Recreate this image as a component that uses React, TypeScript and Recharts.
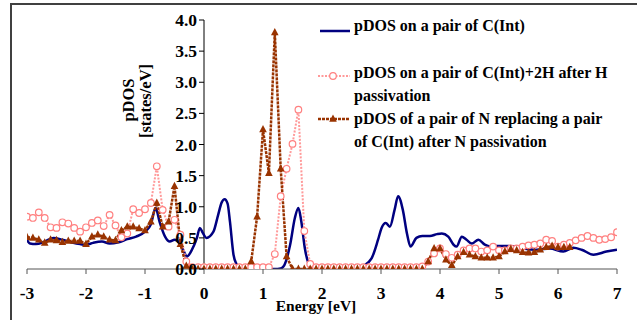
import React from 'react'
import { LineChart, Line, XAxis, YAxis, ReferenceLine, ReferenceDot } from 'recharts'

// energy grid shared by the two marker series (eV)
const energy = [
  -3, -2.9, -2.8, -2.7, -2.6, -2.5, -2.4, -2.3, -2.2, -2.1,
  -2, -1.9, -1.8, -1.7, -1.6, -1.5, -1.4, -1.3, -1.2, -1.1,
  -1, -0.9, -0.8, -0.7, -0.6, -0.5, -0.4, -0.3, -0.2, -0.1,
  0, 0.1, 0.2, 0.3, 0.4, 0.5, 0.6, 0.7, 0.8, 0.9,
  1, 1.1, 1.2, 1.3, 1.4, 1.5, 1.6, 1.7, 1.8, 1.9,
  2, 2.1, 2.2, 2.3, 2.4, 2.5, 2.6, 2.7, 2.8, 2.9,
  3, 3.1, 3.2, 3.3, 3.4, 3.5, 3.6, 3.7, 3.8, 3.9,
  4, 4.1, 4.2, 4.3, 4.4, 4.5, 4.6, 4.7, 4.8, 4.9,
  5, 5.1, 5.2, 5.3, 5.4, 5.5, 5.6, 5.7, 5.8, 5.9,
  6, 6.1, 6.2, 6.3, 6.4, 6.5, 6.6, 6.7, 6.8, 6.9,
  7,
]

// pDOS on a pair of C(Int)+2H after H passivation
const pdosH = [
  0.84, 0.82, 0.91, 0.82, 0.67, 0.66, 0.75, 0.73, 0.66, 0.6,
  0.67, 0.74, 0.78, 0.69, 0.87, 0.7, 0.51, 0.57, 0.96, 0.9,
  0.96, 1.06, 1.65, 0.95, 0.68, 0.79, 0.55, 0.12, 0.03, 0.03,
  0.03, 0.03, 0.03, 0.03, 0.03, 0.03, 0.03, 0.03, 0.03, 0.03,
  0.03, 0.03, 0.24, 1.17, 1.61, 2.01, 2.56, 0.61, 0.08, 0.03,
  0.03, 0.03, 0.03, 0.03, 0.03, 0.03, 0.03, 0.03, 0.03, 0.03,
  0.03, 0.03, 0.03, 0.03, 0.03, 0.03, 0.03, 0.04, 0.12, 0.25,
  0.33, 0.24, 0.18, 0.23, 0.3, 0.33, 0.33, 0.28, 0.3, 0.36,
  0.3, 0.3, 0.33, 0.33, 0.36, 0.38, 0.39, 0.41, 0.47, 0.45,
  0.36, 0.39, 0.42, 0.46, 0.5, 0.53, 0.5, 0.47, 0.48, 0.51,
  0.59,
]

// pDOS of a pair of N replacing a pair of C(Int) after N passivation
const pdosN = [
  0.51, 0.5, 0.47, 0.42, 0.47, 0.46, 0.43, 0.45, 0.45, 0.45,
  0.4, 0.52, 0.55, 0.52, 0.47, 0.46, 0.62, 0.68, 0.68, 0.65,
  0.62, 0.76, 1.06, 0.68, 0.76, 1.33, 0.4, 0.05, 0, 0,
  0, 0, 0, 0, 0, 0, 0, 0, 0.12, 0.84,
  2.24, 1.54, 3.8, 1.61, 0.2, 0, 0, 0, 0, 0,
  0, 0, 0, 0, 0, 0, 0, 0, 0, 0,
  0, 0, 0, 0, 0, 0, 0, 0, 0.12, 0.33,
  0.33, 0.15, 0.06, 0.2, 0.27, 0.23, 0.2, 0.18, 0.18, 0.18,
  0.2, 0.28, 0.32, 0.3, 0.27, 0.26, 0.27, 0.31, 0.35, 0.37,
  0.35, 0.35, 0.35, null, null, null, null, null, null, null,
  null,
]

// pDOS on a pair of C(Int) - smooth curve, own sampling
const cEnergy = [
  -3, -2.95, -2.85, -2.7, -2.55, -2.4, -2.25, -2.1, -2, -1.88,
  -1.73, -1.6, -1.45, -1.3, -1.15, -1, -0.9, -0.82, -0.75, -0.66,
  -0.58, -0.5, -0.41, -0.35, -0.29, -0.21, -0.12, -0.07, -0.02, 0.04,
  0.16, 0.24, 0.3, 0.35, 0.4, 0.44, 0.5, 0.55, 0.6, 0.8,
  1, 1.2, 1.3, 1.36, 1.46, 1.54, 1.6, 1.65, 1.71, 1.77,
  1.82, 2.2, 2.6, 2.7, 2.84, 2.95, 3.01, 3.08, 3.15, 3.23,
  3.29, 3.37, 3.44, 3.5, 3.6, 3.7, 3.83, 3.95, 4.03, 4.14,
  4.23, 4.28, 4.37, 4.45, 4.54, 4.65, 4.76, 4.85, 4.96, 5.13,
  5.3, 5.41, 5.64, 5.86, 6.09, 6.26, 6.4, 6.6, 6.82, 7,
]
const pdosC = [
  0.47, 0.41, 0.4, 0.44, 0.5, 0.47, 0.43, 0.4, 0.39, 0.42,
  0.44, 0.41, 0.43, 0.48, 0.52, 0.6, 0.72, 0.98, 0.75, 0.52,
  0.44, 0.47, 0.41, 0.3, 0.2, 0.3, 0.5, 0.66, 0.58, 0.5,
  0.6, 0.87, 1.07, 1.12, 1.05, 0.76, 0.23, 0.08, 0.01, 0,
  0, 0, 0.01, 0.06, 0.39, 0.82, 0.98, 0.76, 0.33, 0.09,
  0.01, 0, 0, 0.05, 0.17, 0.47, 0.66, 0.74, 0.68, 0.95,
  1.17, 0.95, 0.57, 0.36, 0.5, 0.53, 0.53, 0.56, 0.57, 0.52,
  0.39, 0.36, 0.52, 0.47, 0.41, 0.47, 0.39, 0.36, 0.37, 0.37,
  0.36, 0.33, 0.31, 0.33, 0.28, 0.34, 0.31, 0.23, 0.28, 0.31,
]

const xTicks = [-3, -2, -1, 0, 1, 2, 3, 4, 5, 6, 7]
const yTicks = [0, 0.5, 1, 1.5, 2, 2.5, 3, 3.5, 4]

const seriesNames = [
  ['pDOS on a pair of C(Int)'],
  ['pDOS on a pair of C(Int)+2H after H', 'passivation'],
  ['pDOS of a pair of N replacing a pair', 'of C(Int) after N passivation'],
]

const NAVY = '#000080'
const PINK = '#FF8080'
const BROWN = '#993300'
const FONT = '"Liberation Serif", "Times New Roman", serif'

const markerData = energy.map((e, i) => ({ e, h: pdosH[i], n: pdosN[i] }))
const cData = cEnergy.map((e, i) => ({ e, c: pdosC[i] }))

const Triangle = (props: any) => {
  const { cx, cy, value } = props
  if (cx == null || cy == null || value == null) return <g />
  return (
    <polygon
      points={`${cx},${cy - 4.5} ${cx - 3.8},${cy + 2.8} ${cx + 3.8},${cy + 2.8}`}
      fill={BROWN}
    />
  )
}

// y axis crosses at E = 0, so ticks are drawn on that line
const yTickShape = (label: string) => (props: any) => {
  const { cx, cy } = props
  return (
    <g>
      <line x1={cx - 5} x2={cx} y1={cy} y2={cy} stroke="#000" strokeWidth={1} />
      <text
        x={cx - 7}
        y={cy}
        textAnchor="end"
        dominantBaseline="central"
        style={{ fontFamily: FONT, fontSize: 17.5, fontWeight: 700, fill: '#000' }}
      >
        {label}
      </text>
    </g>
  )
}

const LegendBox = () => {
  const rows = [
    { y: 25, color: NAVY, kind: 'line', lineY: 31 },
    { y: 72, color: PINK, kind: 'circle', lineY: 76 },
    { y: 118, color: BROWN, kind: 'triangle', lineY: 119 },
  ]
  return (
    <g>
      {rows.map((r, i) => (
        <g key={i}>
          {r.kind === 'line' && (
            <line x1={320} x2={350} y1={r.lineY} y2={r.lineY} stroke={NAVY} strokeWidth={2.5} />
          )}
          {r.kind === 'circle' && (
            <g>
              <line x1={318} x2={350} y1={r.lineY} y2={r.lineY} stroke="#FF9999" strokeWidth={2} strokeDasharray="2 1.5" />
              <circle cx={333} cy={r.lineY} r={3.3} fill="#fff" stroke={PINK} strokeWidth={1.2} />
            </g>
          )}
          {r.kind === 'triangle' && (
            <g>
              <line x1={318} x2={350} y1={r.lineY} y2={r.lineY} stroke={BROWN} strokeWidth={2.5} strokeDasharray="3 1" />
              <Triangle cx={333} cy={r.lineY} value={1} />
            </g>
          )}
          {seriesNames[i].map((t, j) => (
            <text
              key={j}
              x={354}
              y={r.y + j * 23}
              dominantBaseline="central"
              style={{ fontFamily: FONT, fontSize: 16, fontWeight: 700, fill: '#000' }}
            >
              {t}
            </text>
          ))}
        </g>
      ))}
    </g>
  )
}

export default function App() {
  return (
    <div style={{ position: 'absolute', left: 0, top: 0, width: 637, height: 320, background: '#fff' }}>
      <LineChart
        width={637}
        height={320}
        data={markerData}
        margin={{ top: 20, right: 20, bottom: 21, left: 27 }}
      >
        <XAxis
          type="number"
          dataKey="e"
          domain={[-3, 7]}
          ticks={xTicks}
          allowDataOverflow
          height={30}
          tickSize={5}
          tickMargin={13}
          stroke="#555"
          tick={{ fontFamily: FONT, fontSize: 17.5, fontWeight: 700, fill: '#000' }}
          label={(p: any) => {
            const vb = p.viewBox
            return (
              <text
                x={vb.x + vb.width / 2 - 6}
                y={vb.y + 42}
                textAnchor="middle"
                style={{ fontFamily: FONT, fontSize: 15.5, fontWeight: 700, fill: '#000' }}
              >
                Energy [eV]
              </text>
            )
          }}
        />
        <YAxis hide type="number" domain={[0, 4]} allowDataOverflow />
        <ReferenceLine x={0} stroke="#000" strokeWidth={1} />
        <Line
          data={cData}
          dataKey="c"
          type="monotone"
          stroke={NAVY}
          strokeWidth={2.5}
          dot={false}
          isAnimationActive={false}
        />
        <Line
          dataKey="h"
          type="linear"
          stroke="#FF9999"
          strokeWidth={2}
          strokeDasharray="2 1.5"
          dot={{ r: 3.3, fill: '#fff', stroke: PINK, strokeWidth: 1.2, strokeDasharray: '' }}
          isAnimationActive={false}
        />
        <Line
          dataKey="n"
          type="linear"
          stroke={BROWN}
          strokeWidth={2.5}
          strokeDasharray="3 1"
          dot={<Triangle />}
          isAnimationActive={false}
        />
        {yTicks.map((v) => (
          <ReferenceDot key={v} x={0} y={v} shape={yTickShape(v.toFixed(1))} />
        ))}
      </LineChart>
      <svg
        width={637}
        height={320}
        style={{ position: 'absolute', left: 0, top: 0, pointerEvents: 'none' }}
      >
        <path d="M11,320 V4 H637" fill="none" stroke="#404040" strokeWidth={2} />
        <g style={{ fontFamily: FONT, fontSize: 16.5, fontWeight: 700 }}>
          <text x={128} y={100} textAnchor="middle" dominantBaseline="central" transform="rotate(-90 128 100)">
            pDOS
          </text>
          <text x={145} y={101} textAnchor="middle" dominantBaseline="central" transform="rotate(-90 145 101)">
            [states/eV]
          </text>
        </g>
        <LegendBox />
      </svg>
    </div>
  )
}
